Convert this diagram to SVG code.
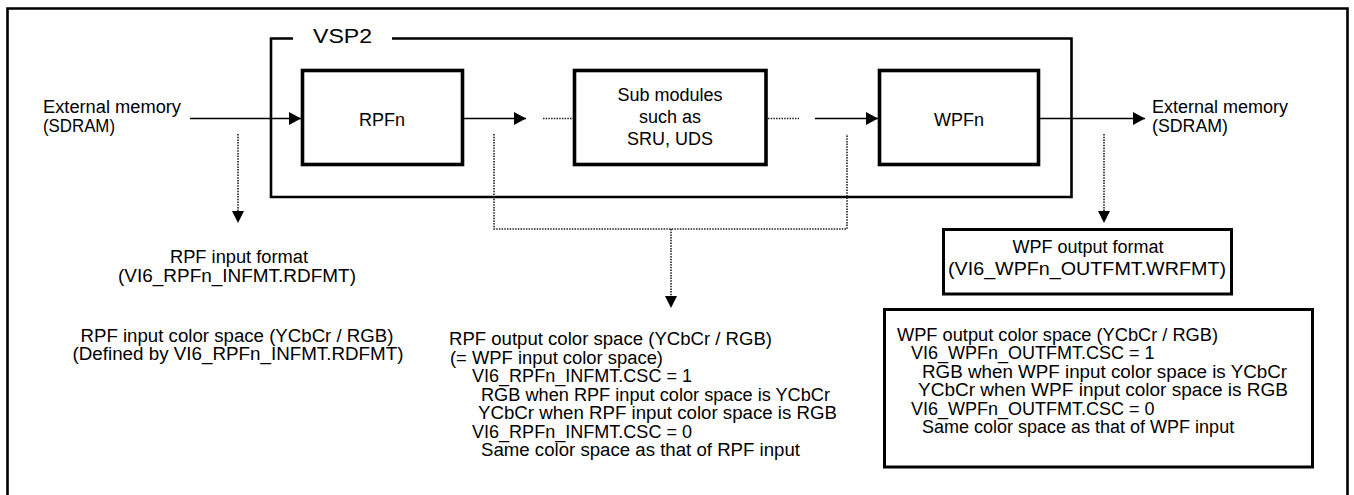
<svg xmlns="http://www.w3.org/2000/svg" width="1354" height="495" viewBox="0 0 1354 495">
<style>
text{font-family:"Liberation Sans",Arial,sans-serif;font-size:18px;fill:#000}
.c{text-anchor:middle}
.frame{fill:none;stroke:#000;stroke-width:2.6}
.box{fill:#fff;stroke:#000;stroke-width:3.6}
.tbox{fill:#fff;stroke:#000;stroke-width:3}
.arr{fill:none;stroke:#000;stroke-width:1.5}
.dot{fill:none;stroke:#222;stroke-width:1.6;stroke-dasharray:1.5 1.2}
</style>
<defs>
<marker id="ah" markerUnits="userSpaceOnUse" markerWidth="12" markerHeight="13" refX="12" refY="6.5" orient="auto">
<path d="M0,0 L12,6.5 L0,13 Z" fill="#000"/>
</marker>
</defs>
<rect width="1354" height="495" fill="#fff"/>
<g id="outer-frame"><path class="frame" d="M7.5,500 V8.5 H1347.5 V500"/></g>
<g id="vsp2">
<path class="frame" d="M293,38.5 H271 V197 H1071.5 V38.5 H392"/>
<text x="313" y="43" style="font-size:20px" textLength="59" lengthAdjust="spacingAndGlyphs">VSP2</text>
</g>
<g id="ext-in">
<text x="43" y="113" textLength="138" lengthAdjust="spacingAndGlyphs">External memory</text>
<text x="43" y="131.5" textLength="72" lengthAdjust="spacingAndGlyphs">(SDRAM)</text>
</g>
<g id="ext-out">
<text x="1152" y="113" textLength="136" lengthAdjust="spacingAndGlyphs">External memory</text>
<text x="1152" y="131.5" textLength="76" lengthAdjust="spacingAndGlyphs">(SDRAM)</text>
</g>
<g id="rpfn">
<rect class="box" x="302.5" y="70.5" width="160" height="94"/>
<text class="c" x="382" y="126">RPFn</text>
</g>
<g id="sub">
<rect class="box" x="574.5" y="70.5" width="191.5" height="94"/>
<text class="c" x="670" y="100.5">Sub modules</text>
<text class="c" x="670" y="122.5">such as</text>
<text class="c" x="670" y="145">SRU, UDS</text>
</g>
<g id="wpfn">
<rect class="box" x="879.5" y="70.5" width="159" height="94"/>
<text class="c" x="959" y="126">WPFn</text>
</g>
<g id="connectors">
<line class="arr" x1="190" y1="118.5" x2="301" y2="118.5" marker-end="url(#ah)"/>
<line class="arr" x1="464" y1="118.5" x2="526" y2="118.5" marker-end="url(#ah)"/>
<line class="dot" x1="543" y1="118.5" x2="573" y2="118.5"/>
<line class="dot" x1="768" y1="118.5" x2="799" y2="118.5"/>
<line class="arr" x1="815" y1="118.5" x2="878" y2="118.5" marker-end="url(#ah)"/>
<line class="arr" x1="1040" y1="118.5" x2="1145" y2="118.5" marker-end="url(#ah)"/>
<line class="dot" x1="238" y1="134" x2="238" y2="212"/>
<path d="M232,211 L244,211 L238,223 Z" fill="#000"/>
<line class="dot" x1="1104" y1="134" x2="1104" y2="212"/>
<path d="M1098,211 L1110,211 L1104,223 Z" fill="#000"/>
<path class="dot" d="M494,134 V229 H847 V134"/>
<line class="dot" x1="671" y1="229" x2="671" y2="297"/>
<path d="M665,296 L677,296 L671,308 Z" fill="#000"/>
</g>
<g id="rpf-input">
<text class="c" x="239" y="263" textLength="138" lengthAdjust="spacingAndGlyphs">RPF input format</text>
<text class="c" x="237" y="281.5" textLength="238" lengthAdjust="spacingAndGlyphs">(VI6_RPFn_INFMT.RDFMT)</text>
<text class="c" x="237" y="341.5" textLength="313" lengthAdjust="spacingAndGlyphs">RPF input color space (YCbCr / RGB)</text>
<text class="c" x="238" y="360" textLength="331" lengthAdjust="spacingAndGlyphs">(Defined by VI6_RPFn_INFMT.RDFMT)</text>
</g>
<g id="rpf-output">
<text x="449" y="345" textLength="323" lengthAdjust="spacingAndGlyphs">RPF output color space (YCbCr / RGB)</text>
<text x="450" y="363.5" textLength="213" lengthAdjust="spacingAndGlyphs">(= WPF input color space)</text>
<text x="472" y="382" textLength="220" lengthAdjust="spacingAndGlyphs">VI6_RPFn_INFMT.CSC = 1</text>
<text x="481" y="400.5" textLength="349" lengthAdjust="spacingAndGlyphs">RGB when RPF input color space is YCbCr</text>
<text x="478" y="419" textLength="359" lengthAdjust="spacingAndGlyphs">YCbCr when RPF input color space is RGB</text>
<text x="472" y="437.5" textLength="220" lengthAdjust="spacingAndGlyphs">VI6_RPFn_INFMT.CSC = 0</text>
<text x="481" y="456" textLength="319" lengthAdjust="spacingAndGlyphs">Same color space as that of RPF input</text>
</g>
<g id="wpf-format">
<rect class="tbox" x="943.5" y="229.5" width="288" height="64.5"/>
<text class="c" x="1088" y="253">WPF output format</text>
<text class="c" x="1087" y="275" textLength="278" lengthAdjust="spacingAndGlyphs">(VI6_WPFn_OUTFMT.WRFMT)</text>
</g>
<g id="wpf-colorspace">
<rect class="tbox" x="884.5" y="309.5" width="428" height="157.5"/>
<text x="897" y="340.5" textLength="321" lengthAdjust="spacingAndGlyphs">WPF output color space (YCbCr / RGB)</text>
<text x="911" y="359">VI6_WPFn_OUTFMT.CSC = 1</text>
<text x="922" y="377.5" textLength="365" lengthAdjust="spacingAndGlyphs">RGB when WPF input color space is YCbCr</text>
<text x="918" y="396" textLength="370" lengthAdjust="spacingAndGlyphs">YCbCr when WPF input color space is RGB</text>
<text x="911" y="414.5">VI6_WPFn_OUTFMT.CSC = 0</text>
<text x="922" y="433">Same color space as that of WPF input</text>
</g>
</svg>
